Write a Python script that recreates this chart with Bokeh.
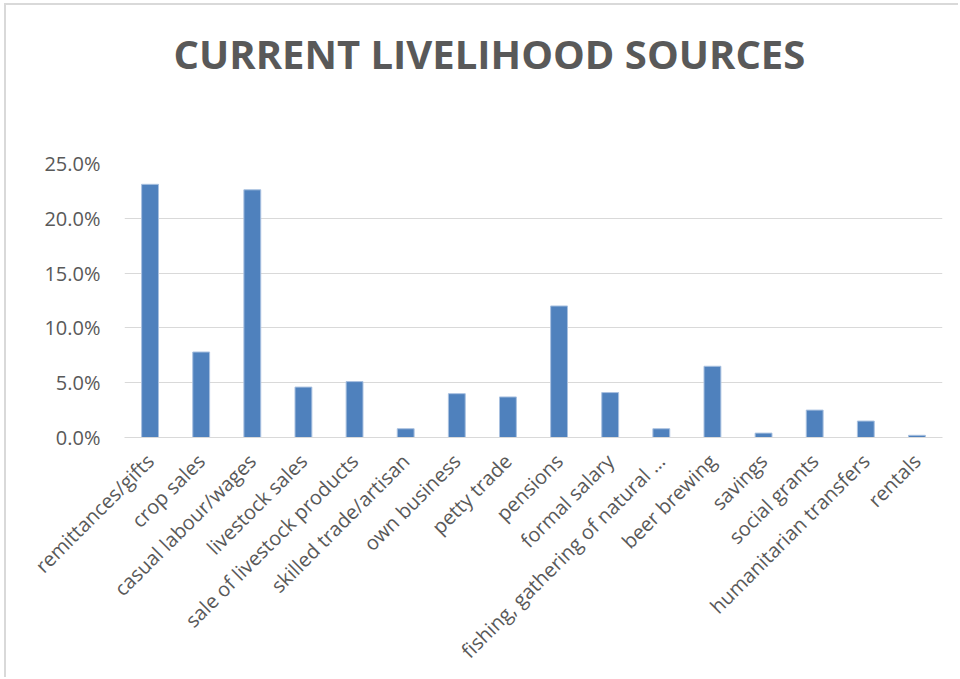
from bokeh.plotting import figure
from bokeh.models import ColumnDataSource, Range1d, FixedTicker, NumeralTickFormatter, Title
from bokeh.embed import file_html
from bokeh.resources import INLINE
import math

categories = ["remittances/gifts", "crop sales", "casual labour/wages", "livestock sales",
              "sale of livestock products", "skilled trade/artisan", "own business", "petty trade",
              "pensions", "formal salary", "fishing, gathering of natural …", "beer brewing",
              "savings", "social grants", "humanitarian transfers", "rentals"]
shares_pct = [23.1, 7.8, 22.6, 4.6, 5.1, 0.8, 4.0, 3.7, 12.0, 4.1, 0.8, 6.5, 0.4, 2.5, 1.5, 0.2]
y_ticks = [0.0, 0.05, 0.10, 0.15, 0.20, 0.25]
title_text = "CURRENT LIVELIHOOD SOURCES"

idx = list(range(len(categories)))
src = ColumnDataSource(dict(x=idx, val=[v / 100 for v in shares_pct]))

# frame position in window pixels
FL, FR, FT, FB = 124, 942, 163, 437
OFFX, OFFY = 6, 5
X0, X1 = -0.5, len(categories) - 0.5
Y0, Y1 = 0.0, 0.25
p = figure(x_range=Range1d(X0, X1), y_range=Range1d(Y0, Y1),
           width=960 - OFFX, height=679 - OFFY,
           output_backend="svg", toolbar_location=None, title=None)
p.styles = {"border-top": "2px solid #d9d9d9", "border-left": "2px solid #d9d9d9",
            "margin-left": "4px", "margin-top": "3px", "box-sizing": "border-box"}
p.min_border_left = FL - OFFX
p.min_border_right = 960 - FR
p.min_border_top = FT - OFFY
p.min_border_bottom = 679 - FB
p.outline_line_color = None
p.background_fill_color = "white"
p.border_fill_color = "white"

# spacer title next to the frame, then the real title above it
spacer = Title(text=" ", text_font_size="1px", standoff=80)
p.add_layout(spacer, "above")
main_title = Title(text=title_text, align="left", offset=49, standoff=0,
                   text_font="Open Sans", text_font_size="40px", text_font_style="bold",
                   text_color="#595959")
p.add_layout(main_title, "above")

p.vbar(x="x", top="val", width=0.33, source=src, fill_color="#4F81BD",
       line_color="#a9c1e0", line_width=1)

p.yaxis.ticker = FixedTicker(ticks=y_ticks)
p.yaxis.formatter = NumeralTickFormatter(format="0.0%")
p.yaxis.axis_line_color = None
p.yaxis.major_tick_line_color = None
p.yaxis.minor_tick_line_color = None
p.yaxis.major_label_text_font = "Open Sans"
p.yaxis.major_label_text_font_size = "20px"
p.yaxis.major_label_text_color = "#595959"
p.yaxis.major_label_standoff = 18

p.xaxis.ticker = FixedTicker(ticks=idx)
p.xaxis.major_label_overrides = {i: c for i, c in zip(idx, categories)}
p.xaxis.axis_line_color = "#d9d9d9"
p.xaxis.major_tick_line_color = None
p.xaxis.minor_tick_line_color = None
p.xaxis.major_label_orientation = math.pi / 4
p.xaxis.major_label_text_font = "Open Sans"
p.xaxis.major_label_text_font_size = "20px"
p.xaxis.major_label_text_color = "#595959"
p.xaxis.major_label_standoff = 14

p.xgrid.grid_line_color = None
p.ygrid.grid_line_color = "#d9d9d9"
p.ygrid.ticker = FixedTicker(ticks=y_ticks)

open("out.html", "w").write(file_html(p, INLINE))
